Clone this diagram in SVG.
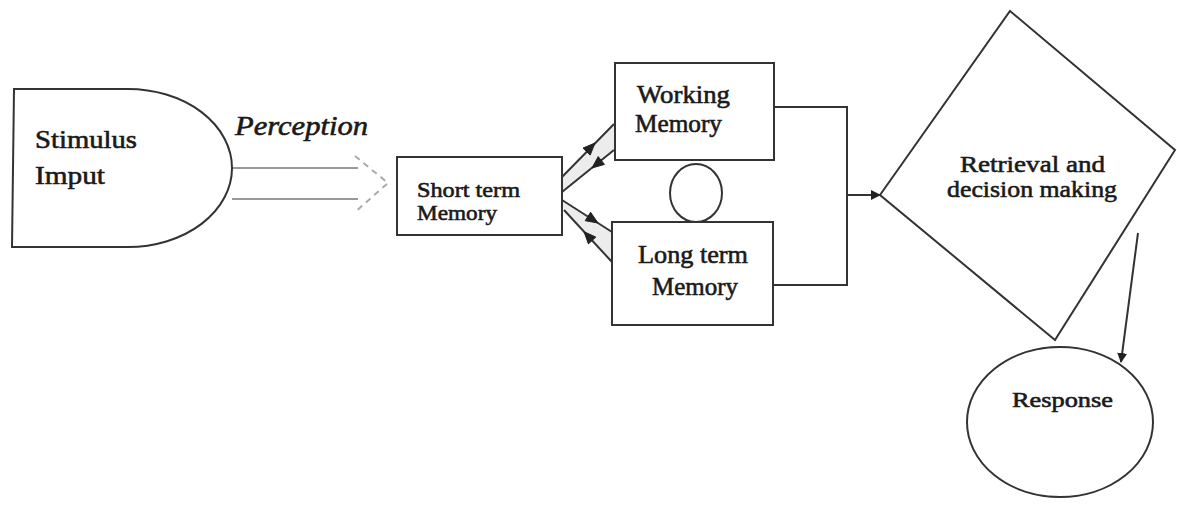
<svg xmlns="http://www.w3.org/2000/svg" width="1177" height="508" viewBox="0 0 1177 508">
<style>
.shape{fill:#fff;stroke:#333;stroke-width:2}
.line{fill:none;stroke:#333;stroke-width:2}
.gray{fill:none;stroke:#999;stroke-width:2}
.head{fill:#222;stroke:#222;stroke-width:1}
text{font-family:'Liberation Serif','Times New Roman',Times,serif;fill:#1a1a1a;stroke:#1a1a1a;stroke-width:0.6}
</style>
<defs>
<marker id="ah" viewBox="0 0 10 10" refX="9" refY="5" markerWidth="5" markerHeight="5" orient="auto" markerUnits="strokeWidth">
<path d="M0,0 L10,5 L0,10 Z" fill="#222"/>
</marker>
</defs>
<g id="connectors">
<path class="gray" d="M232,168 L358,168"/>
<path class="gray" d="M232,199 L358,199"/>
<path d="M355,156 L388,183 L355,212" fill="none" stroke="#aaa" stroke-width="2" stroke-dasharray="6,5"/>
<polygon points="561,178 614,124 614,150 562,192" fill="#ececec"/>
<polygon points="562,200 612,232 612,262 564,210" fill="#ececec"/>
<path class="line" d="M561,178 L614,124"/>
<path class="line" d="M614,150 L562,192"/>
<path class="line" d="M562,200 L612,232"/>
<path class="line" d="M612,262 L564,210"/>
<polygon class="head" points="595,143 590.2,155.1 583,148.1"/>
<polygon class="head" points="592,168 604.5,164.4 598.2,156.6"/>
<polygon class="head" points="598,223 585.2,220.7 590.6,212.3"/>
<polygon class="head" points="584,231.7 595.8,237.1 588.4,243.9"/>
<path class="line" d="M774,107 L847,107 L847,285 L773,285"/>
<path class="line" d="M847,195 L880,195" marker-end="url(#ah)"/>
<path class="line" d="M1138,233 L1121,362" marker-end="url(#ah)"/>
</g>
<g id="stimulus">
<path class="shape" d="M14,89 L128,89 A104,79 0 0 1 128,247 L12,247 Z"/>
<text x="35" y="148" font-size="26" textLength="102" lengthAdjust="spacingAndGlyphs">Stimulus</text>
<text x="35" y="184" font-size="26" textLength="70" lengthAdjust="spacingAndGlyphs">Imput</text>
</g>
<g id="perception">
<text x="235" y="135" font-size="28" font-style="italic" textLength="133" lengthAdjust="spacingAndGlyphs">Perception</text>
</g>
<g id="short-term">
<rect class="shape" x="397" y="157" width="165" height="78"/>
<text x="417" y="197" font-size="22" textLength="103" lengthAdjust="spacingAndGlyphs">Short term</text>
<text x="417" y="220" font-size="22" textLength="80" lengthAdjust="spacingAndGlyphs">Memory</text>
</g>
<g id="working">
<rect class="shape" x="615" y="63" width="159" height="97"/>
<text x="637" y="103" font-size="25" textLength="93" lengthAdjust="spacingAndGlyphs">Working</text>
<text x="635" y="132" font-size="25" textLength="87" lengthAdjust="spacingAndGlyphs">Memory</text>
</g>
<g id="loop">
<ellipse class="shape" cx="696" cy="193" rx="26" ry="29"/>
</g>
<g id="long-term">
<rect class="shape" x="612" y="222" width="161" height="103"/>
<text x="638" y="263" font-size="26" textLength="110" lengthAdjust="spacingAndGlyphs">Long term</text>
<text x="652" y="295" font-size="26" textLength="86" lengthAdjust="spacingAndGlyphs">Memory</text>
</g>
<g id="retrieval">
<polygon class="shape" points="1010,11 1175,150 1055,340 880,195"/>
<text x="960" y="172" font-size="24" textLength="145" lengthAdjust="spacingAndGlyphs">Retrieval and</text>
<text x="947" y="197" font-size="24" textLength="170" lengthAdjust="spacingAndGlyphs">decision making</text>
</g>
<g id="response">
<ellipse class="shape" cx="1060" cy="422" rx="93" ry="75"/>
<text x="1012" y="407" font-size="22" textLength="101" lengthAdjust="spacingAndGlyphs">Response</text>
</g>
</svg>
